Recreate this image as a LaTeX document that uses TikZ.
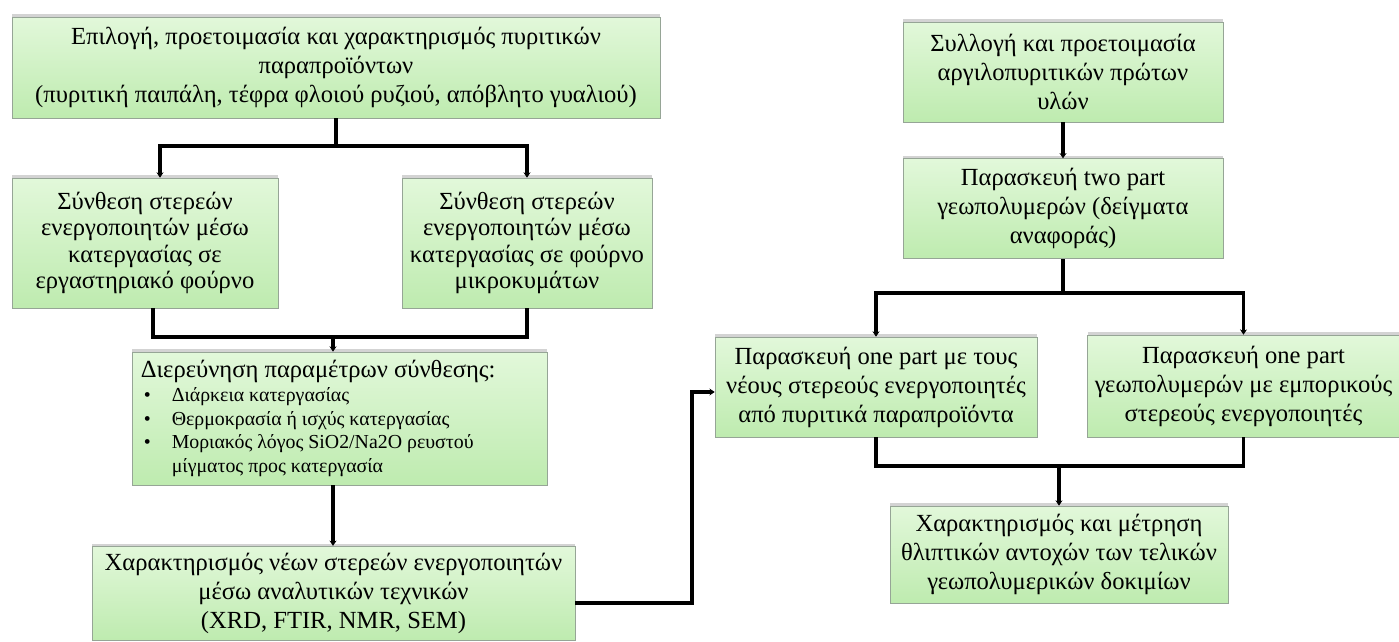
\documentclass[tikz,border=0pt]{standalone}
\usepackage{fontspec}
\setmainfont{Liberation Serif}
\usetikzlibrary{arrows.meta, positioning, shadows}

\definecolor{boxtop}{RGB}{226,248,218}
\definecolor{boxbot}{RGB}{190,235,175}
\definecolor{boxline}{RGB}{150,165,150}

\newcommand{\paramitem}[1]{\par\hangindent=0.62cm\hangafter=1\noindent\makebox[0.62cm][l]{\hspace{0.06cm}•}#1}

\begin{document}
\begin{tikzpicture}[
    x=0.02cm, y=-0.02cm,
    font=\fontsize{14}{16.5}\selectfont,
    stage/.style={rectangle, draw=boxline, top color=boxtop, bottom color=boxbot, align=center, inner sep=4pt, drop shadow={shadow xshift=0pt, shadow yshift=1.5pt, opacity=0.35}},
    link/.style={line width=2.1pt, draw=black},
    arrow/.style={link, -{Stealth[length=3pt, width=4pt]}}
]
\useasboundingbox (0,0) rectangle (1399,642);

% Left branch: solid activators
\node[stage, minimum width=12.96cm, minimum height=2.02cm] (prep) at (336,67.5) {Επιλογή, προετοιμασία και χαρακτηρισμός πυριτικών\\ παραπροϊόντων\\ (πυριτική παιπάλη, τέφρα φλοιού ρυζιού, απόβλητο γυαλιού)};
\node[stage, minimum width=5.32cm, minimum height=2.6cm, font=\fontsize{14}{15}\selectfont] (furnace) at (145,243) {Σύνθεση στερεών\\ ενεργοποιητών μέσω\\ κατεργασίας σε\\ εργαστηριακό φούρνο};
\node[stage, minimum width=5.0cm, minimum height=2.6cm, font=\fontsize{14}{15}\selectfont] (microwave) at (527,243) {Σύνθεση στερεών\\ ενεργοποιητών μέσω\\ κατεργασίας σε φούρνο\\ μικροκυμάτων};
\node[stage, minimum width=8.3cm, minimum height=2.66cm] (params) at (339.5,418.5) {\begin{minipage}{7.95cm}
  Διερεύνηση παραμέτρων σύνθεσης:\par
  \fontsize{11.3}{13.4}\selectfont
  \paramitem{Διάρκεια κατεργασίας}
  \paramitem{Θερμοκρασία ή ισχύς κατεργασίας}
  \paramitem{Μοριακός λόγος SiO2/Na2O ρευστού\newline μίγματος προς κατεργασία}
\end{minipage}};
\node[stage, minimum width=9.66cm, minimum height=1.86cm] (analysis) at (333.5,593.5) {Χαρακτηρισμός νέων στερεών ενεργοποιητών\\ μέσω αναλυτικών τεχνικών\\ (XRD, FTIR, NMR, SEM)};

% Right branch: geopolymers
\node[stage, minimum width=6.4cm, minimum height=2.0cm] (raw) at (1063,72) {Συλλογή και προετοιμασία\\ αργιλοπυριτικών πρώτων\\ υλών};
\node[stage, minimum width=6.4cm, minimum height=2.0cm, below=0.72cm of raw] (twopart) {Παρασκευή two part\\ γεωπολυμερών (δείγματα\\ αναφοράς)};
\node[stage, minimum width=6.44cm, minimum height=2.0cm] (onenew) at (876,387) {Παρασκευή one part με τους\\ νέους στερεούς ενεργοποιητές\\ από πυριτικά παραπροϊόντα};
\node[stage, minimum width=6.14cm, minimum height=2.04cm] (onecom) at (1243.5,386) {Παρασκευή one part\\ γεωπολυμερών με εμπορικούς\\ στερεούς ενεργοποιητές};
\node[stage, minimum width=6.76cm, minimum height=1.94cm] (test) at (1059,554.5) {Χαρακτηρισμός και μέτρηση\\ θλιπτικών αντοχών των τελικών\\ γεωπολυμερικών δοκιμίων};

% Junctions
\coordinate (jA) at (336,146);
\coordinate (jB) at (333,337);
\coordinate (jR) at (1063,293);
\coordinate (jE) at (1059,466);

% Connectors
\draw[link] (prep.south) -- (jA);
\draw[arrow] (jA) -| ([xshift=0.3cm]furnace.north);
\draw[arrow] (jA) -| (microwave.north);
\draw[link] ([xshift=0.16cm]furnace.south) |- (jB);
\draw[link] (microwave.south) |- (jB);
\draw[arrow] (jB) -- (jB |- params.north);
\draw[arrow] (params.south -| jB) -- (jB |- analysis.north);
\draw[arrow] ([yshift=-0.19cm]analysis.east) -- ++(117,0) |- ([yshift=-0.1cm]onenew.west);

\draw[arrow] (raw) -- (twopart);
\draw[link] (twopart.south) -- (jR);
\draw[arrow] (jR) -| (onenew.north);
\draw[arrow] (jR) -| (onecom.north);
\draw[link] (onenew.south) |- (jE);
\draw[link] (onecom.south) |- (jE);
\draw[arrow] (jE) -- (test.north);

\end{tikzpicture}
\end{document}
